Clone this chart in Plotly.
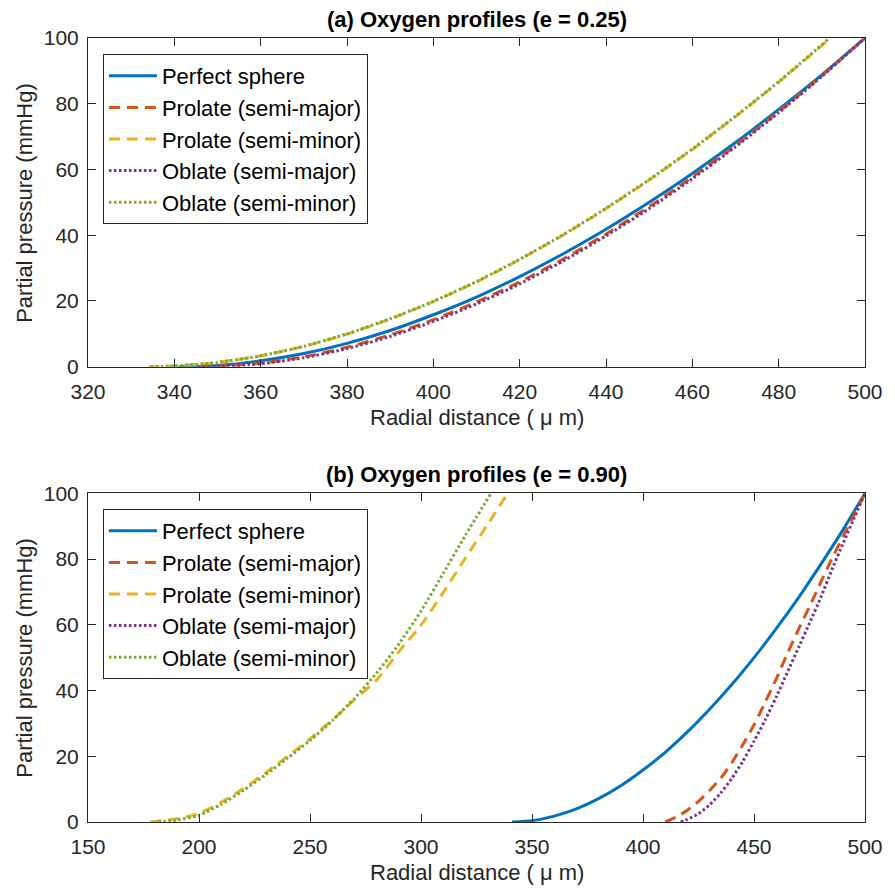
import plotly.graph_objects as go

# ---------------- data ----------------
# Perfect sphere (same in both panels)
sphere_r = [341, 350, 360, 370, 380, 390, 400, 410, 420, 430, 440, 450, 460, 470, 480, 490, 500]
sphere_p = [0, 0.4, 1.8, 4.0, 7.1, 11.0, 15.8, 21.2, 27.4, 34.3, 41.8, 50.0, 58.8, 68.2, 78.3, 88.8, 100]

# (a) e = 0.25
a_pmaj_r = [345.5, 350, 360, 370, 380, 390, 400, 410, 420, 430, 440, 450, 460, 470, 480, 490, 500]
a_pmaj_p = [0, 0.1, 1.1, 3.0, 5.9, 9.7, 14.3, 19.7, 25.8, 32.7, 40.4, 48.7, 57.7, 67.3, 77.6, 88.5, 100]
a_pmin_r = [334, 340, 350, 360, 370, 380, 390, 400, 410, 420, 430, 440, 450, 460, 470, 480, 492]
a_pmin_p = [0, 0.2, 1.3, 3.3, 6.2, 9.9, 14.5, 19.8, 25.8, 32.6, 40.0, 48.1, 56.8, 66.1, 76.1, 86.6, 100]
a_omaj_r = [346.5, 350, 360, 370, 380, 390, 400, 410, 420, 430, 440, 450, 460, 470, 480, 490, 500]
a_omaj_p = [0, 0.05, 0.9, 2.7, 5.5, 9.2, 13.8, 19.1, 25.2, 32.1, 39.8, 48.1, 57.2, 66.9, 77.3, 88.3, 100]
a_omin_r = [334.5, 340, 350, 360, 370, 380, 390, 400, 410, 420, 430, 440, 450, 460, 470, 480, 491.8]
a_omin_p = [0, 0.2, 1.3, 3.3, 6.2, 10.0, 14.6, 19.9, 25.9, 32.7, 40.1, 48.2, 56.9, 66.2, 76.2, 86.7, 100]

# (b) e = 0.90
b_pmaj_r = [410, 415, 420, 425, 430, 435, 440, 445, 450, 455, 460, 465, 470, 475, 480, 485, 490, 495, 500]
b_pmaj_p = [0, 1.5, 3.6, 6.3, 9.6, 13.3, 18.0, 23.6, 29.5, 36.4, 43.5, 51.2, 58.5, 65.5, 72.8, 80.0, 86.7, 93.3, 100]
b_pmin_r = [178, 190, 200, 210, 220, 230, 240, 250, 260, 270, 280, 290, 300, 310, 320, 330, 339]
b_pmin_p = [0, 1.0, 2.6, 6.0, 10.2, 15.0, 20.0, 25.3, 31.0, 37.2, 43.2, 51.8, 59.9, 69.8, 80.3, 90.5, 100]
b_omaj_r = [417, 420, 425, 430, 435, 440, 445, 450, 455, 460, 465, 470, 475, 480, 485, 490, 495, 500]
b_omaj_p = [0, 0.8, 2.5, 5.2, 8.8, 13.3, 18.5, 24.6, 31.0, 38.0, 45.5, 53.0, 60.5, 68.2, 76.6, 84.6, 92.3, 100]
b_omin_r = [181.7, 190, 200, 210, 220, 230, 240, 250, 260, 270, 280, 290, 300, 310, 320, 331.5]
b_omin_p = [0, 0.6, 2.0, 5.4, 9.6, 14.4, 19.5, 24.8, 30.8, 37.6, 45.3, 54.1, 64.2, 75.6, 87.2, 100]

names = ["Perfect sphere", "Prolate (semi-major)", "Prolate (semi-minor)",
         "Oblate (semi-major)", "Oblate (semi-minor)"]
titles = ["(a) Oxygen profiles (e = 0.25)", "(b) Oxygen profiles (e = 0.90)"]
x_ticks_a = [320, 340, 360, 380, 400, 420, 440, 460, 480, 500]
x_ticks_b = [150, 200, 250, 300, 350, 400, 450, 500]
y_ticks = [0, 20, 40, 60, 80, 100]

# ---------------- styling ----------------
colors = ["#0072BD", "#D95319", "#EDB120", "#7E2F8E", "#77AC30"]
dashes = ["solid", "11px,7px", "11px,7px", "2.5px,2.5px", "2.5px,2.5px"]
FONT = "Liberation Sans, Arial, Helvetica, sans-serif"
AX = "#262626"

fig = go.Figure()
panels = [
    ("x", "y", "legend", [(sphere_r, sphere_p), (a_pmaj_r, a_pmaj_p), (a_pmin_r, a_pmin_p),
                          (a_omaj_r, a_omaj_p), (a_omin_r, a_omin_p)]),
    ("x2", "y2", "legend2", [(sphere_r, sphere_p), (b_pmaj_r, b_pmaj_p), (b_pmin_r, b_pmin_p),
                             (b_omaj_r, b_omaj_p), (b_omin_r, b_omin_p)]),
]
for xa, ya, lg, series in panels:
    for i, (r, p) in enumerate(series):
        fig.add_trace(go.Scatter(
            x=r, y=p, mode="lines", name=names[i],
            line=dict(color=colors[i], width=3, dash=dashes[i], shape="spline", smoothing=0.6),
            xaxis=xa, yaxis=ya, legend=lg, legendgroup=lg + str(i),
        ))

axis_common = dict(showgrid=False, zeroline=False, showline=True, linecolor=AX, linewidth=1,
                   mirror="ticks", ticks="inside", ticklen=8, tickcolor=AX, tickwidth=1,
                   tickfont=dict(family=FONT, size=21, color=AX))

# page has an 8px body margin: figure occupies the window from (8, 8)
OFF = 8
W, H = 895 - OFF, 890 - OFF
L, R, T, B = 88 - OFF, 27, 38 - OFF, 68
PW = W - L - R
ph = H - T - B

def py(pix):
    return (H - B - (pix - OFF)) / ph

def px(pix):
    return ((pix - OFF) - L) / PW

top_dom = [py(366.7), 1.0]
bot_dom = [0.0, py(493.3)]

leg_common = dict(xanchor="left", yanchor="top", bgcolor="white", bordercolor=AX, borderwidth=1,
                  font=dict(family=FONT, size=22, color="black"), tracegroupgap=0, itemwidth=48)

fig.update_layout(
    width=W, height=H, margin=dict(l=L, r=R, t=T, b=B),
    paper_bgcolor="white", plot_bgcolor="white",
    font=dict(family=FONT, size=21, color=AX),
    xaxis=dict(range=[320, 500], tickvals=x_ticks_a, anchor="y", domain=[0, 1],
               ticklabelstandoff=6, **axis_common),
    yaxis=dict(range=[0, 100], tickvals=y_ticks, anchor="x", domain=top_dom,
               ticklabelstandoff=4, **axis_common),
    xaxis2=dict(range=[150, 500], tickvals=x_ticks_b, anchor="y2", domain=[0, 1],
                ticklabelstandoff=6, **axis_common),
    yaxis2=dict(range=[0, 100], tickvals=y_ticks, anchor="x2", domain=bot_dom,
                ticklabelstandoff=4, **axis_common),
    legend=dict(x=px(103), y=py(54), **leg_common),
    legend2=dict(x=px(103), y=py(509), **leg_common),
    showlegend=True,
)

ann = []
cx = 0.5
for k, (axis_top, axis_bot) in enumerate([(38.5, 366.7), (493.3, 821.7)]):
    ann.append(dict(text="<b>" + titles[k] + "</b>", x=cx, y=py(axis_top - 19), xref="paper", yref="paper",
                    showarrow=False, xanchor="center", yanchor="middle",
                    font=dict(family=FONT, size=22, color="black")))
    ann.append(dict(text="Radial distance ( μ m)", x=cx, y=py(axis_bot + 51), xref="paper", yref="paper",
                    showarrow=False, xanchor="center", yanchor="middle",
                    font=dict(family=FONT, size=22, color=AX)))
    ann.append(dict(text="Partial pressure (mmHg)", x=px(24), y=py((axis_top + axis_bot) / 2),
                    xref="paper", yref="paper", showarrow=False, textangle=-90,
                    xanchor="center", yanchor="middle",
                    font=dict(family=FONT, size=22, color=AX)))
fig.update_layout(annotations=ann)

fig.write_html("out.html")
